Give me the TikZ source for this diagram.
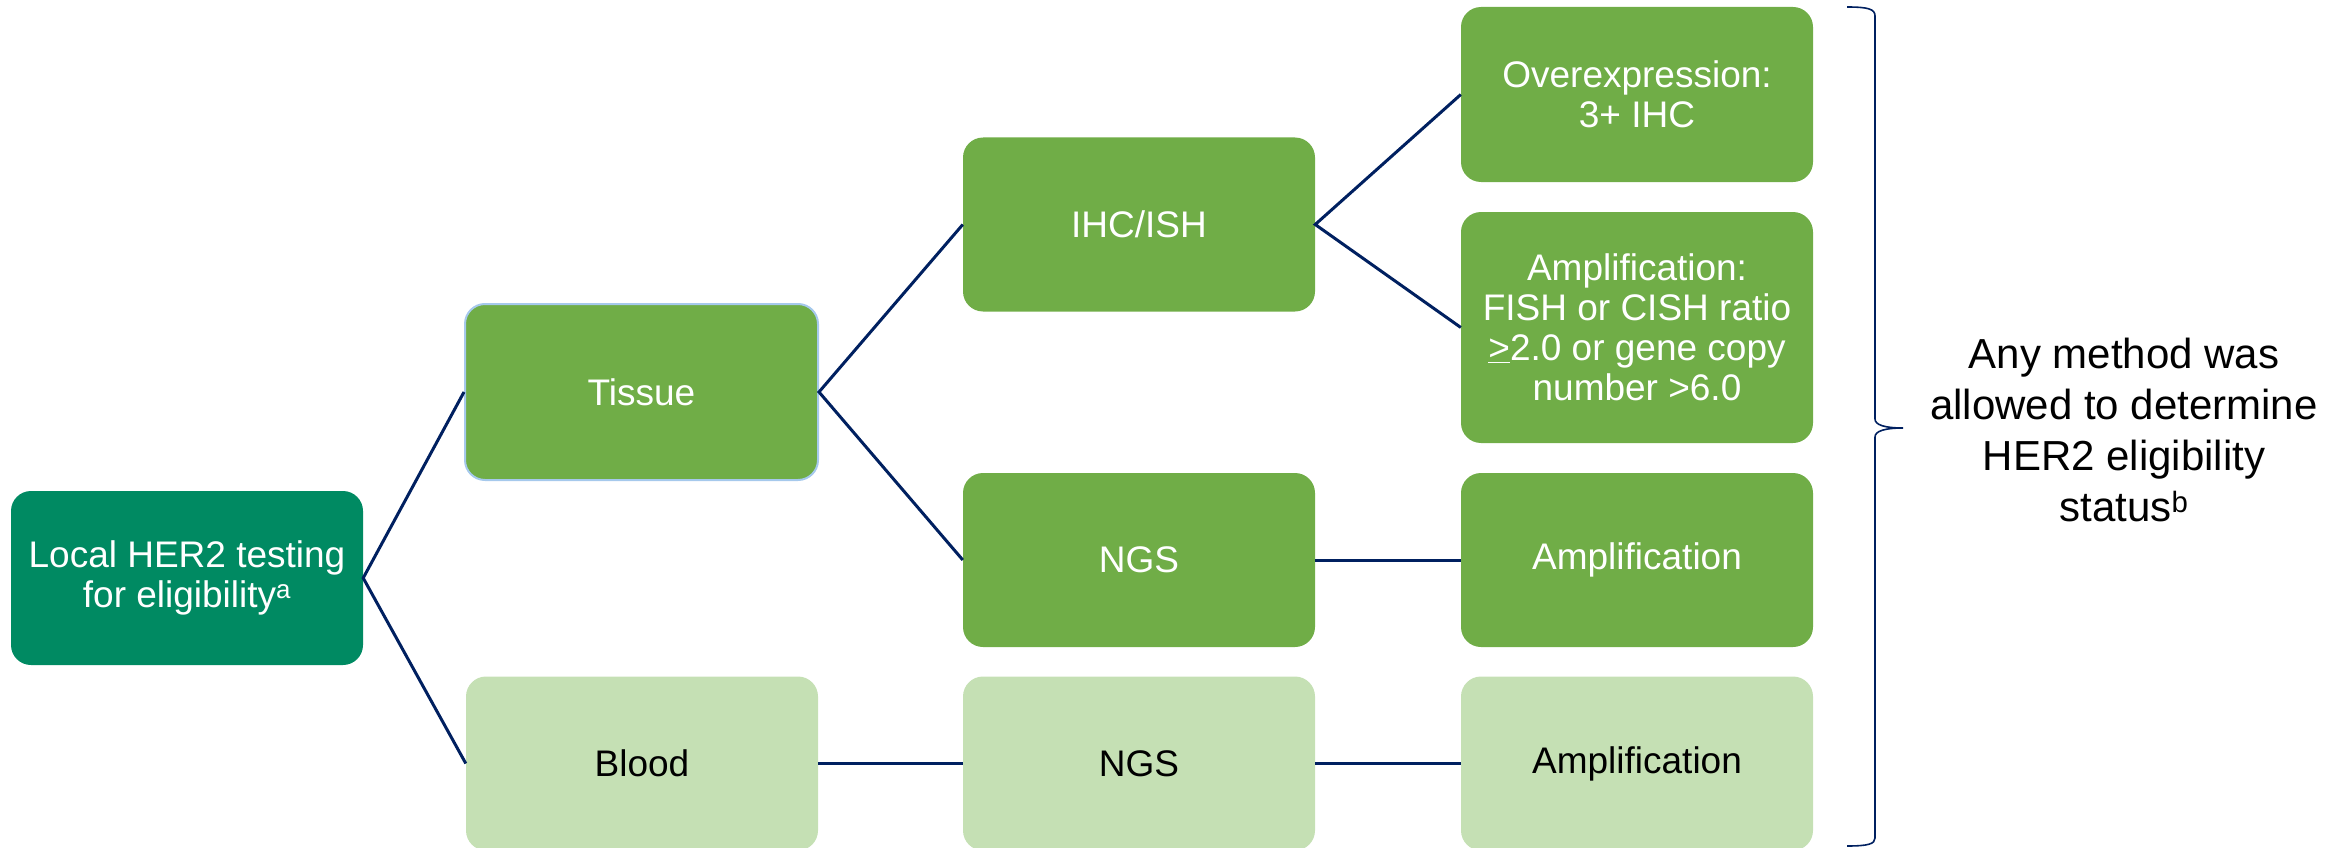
\documentclass[tikz,border=0pt]{standalone}
\usepackage{fontspec}
\setmainfont{Liberation Sans}
\definecolor{dkgreen}{HTML}{008A62}
\definecolor{mdgreen}{HTML}{70AD47}
\definecolor{ltgreen}{HTML}{C5E0B4}
\definecolor{navy}{HTML}{002060}
\definecolor{edgeblue}{HTML}{A6C9EC}
\newcommand{\boxfont}{\fontsize{37}{40}\selectfont}
\newcommand{\notefont}{\fontsize{42}{51}\selectfont}
\tikzset{
  basebox/.style={rounded corners=20pt, minimum width=352pt, minimum height=174pt,
    align=center, inner sep=0pt, font=\boxfont},
  dkbox/.style={basebox, fill=dkgreen, text=white},
  mdbox/.style={basebox, fill=mdgreen, text=white},
  ltbox/.style={basebox, fill=ltgreen, text=black},
  link/.style={draw=navy, line width=3pt},
}
\begin{document}
\begin{tikzpicture}[x=1pt, y=-1pt]
\useasboundingbox (0,0) rectangle (2348,848);
\node[dkbox] (local) at (187,578) {Local HER2 testing\\for eligibility\textsuperscript{a}};
\node[mdbox, minimum width=353pt, minimum height=176pt, draw=edgeblue, line width=2pt] (tissue) at (641.5,392) {Tissue};
\node[ltbox] (blood) at (642,763.5) {Blood};
\node[mdbox] (ihc) at (1139,224.5) {IHC/ISH};
\node[mdbox] (ngsa) at (1139,560) {NGS};
\node[ltbox] (ngsb) at (1139,763.5) {NGS};
\node[mdbox, minimum height=175pt] (over) at (1637,94.5) {Overexpression:\\3+ IHC};
\node[mdbox, minimum height=231pt] (ampf) at (1637,327.5) {Amplification:\\FISH or CISH ratio\\\underline{>}2.0 or gene copy\\number >6.0};
\node[mdbox] (ampa) at (1637,560) {Amplification};
\node[ltbox] (ampb) at (1637,763.5) {Amplification};
\node[align=center, font=\notefont, inner sep=0pt] (note) at (2124,430) {Any method was\\allowed to determine\\HER2 eligibility\\status\textsuperscript{b}};

\draw[link] (tissue.west) -- (local.east) -- (blood.west);
\draw[link] (ihc.west) -- (tissue.east) -- (ngsa.west);
\draw[link] (over.west) -- (ihc.east) -- (ampf.west);
\draw[link] (ngsa.east) -- (ampa.west);
\draw[link] (blood.east) -- (ngsb.west);
\draw[link] (ngsb.east) -- (ampb.west);

\draw[navy, line width=1.6pt] (1847,7) .. controls (1868,7) and (1875,9) .. (1875,16)
  -- (1875,419) .. controls (1875,425) and (1885,428) .. (1903,428)
  .. controls (1885,428) and (1875,431) .. (1875,437)
  -- (1875,838) .. controls (1875,844) and (1868,846) .. (1847,846);
\end{tikzpicture}
\end{document}
